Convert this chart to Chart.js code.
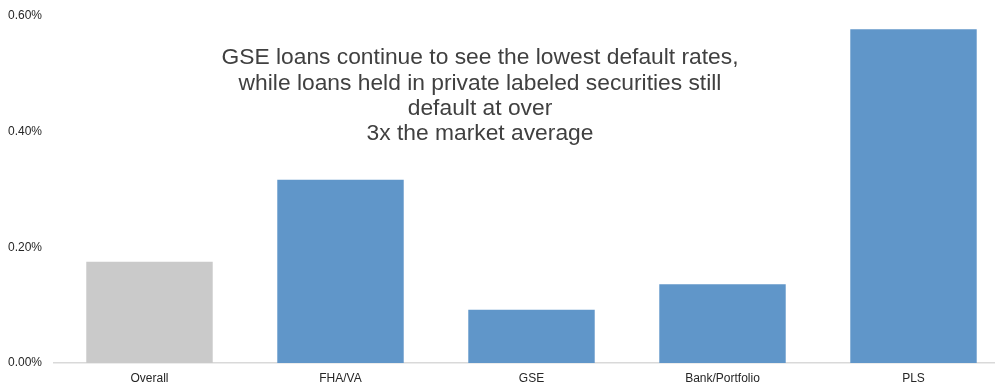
<!DOCTYPE html>
<html>
<head>
<meta charset="utf-8">
<script src="https://cdn.jsdelivr.net/npm/chart.js@4"></script>
<style>
  html, body { margin: 0; padding: 0; background: #fff; overflow: hidden; }
  #wrap { width: 1010px; height: 383px; }
</style>
</head>
<body>
<div id="wrap"><canvas id="chart"></canvas></div>
<script>
// ─── Data ────────────────────────────────────────────────────────────────────
const categories  = ["Overall", "FHA/VA", "GSE", "Bank/Portfolio", "PLS"];
const defaultRate = [0.175, 0.317, 0.092, 0.136, 0.577];   // percent
const yTicks      = [0, 0.2, 0.4, 0.6];
const note = [
    "GSE loans continue to see the lowest default rates,",
    "while loans held in private labeled securities still",
    "default at over",
    "3x the market average"
];

// ─── Styling ─────────────────────────────────────────────────────────────────
const BLUE  = "#6096c9";
const GREY  = "#cacaca";
const FONT  = "'Liberation Sans', Arial, sans-serif";

Chart.defaults.font.family = FONT;
Chart.defaults.color       = "#262626";

// callout text in the upper middle of the plot
const notePlugin = {
    id: "noteText",
    afterDraw(chart) {
        const { ctx: c, chartArea: { left } } = chart;
        c.save();
        c.font = "22.8px " + FONT;
        c.fillStyle = "#404040";
        c.textAlign = "center";
        c.textBaseline = "middle";
        note.forEach((line, i) => c.fillText(line, left + 426, 58 + i * 25.4));
        c.restore();
    }
};

new Chart(document.getElementById("chart"), {
    type: "bar",
    plugins: [notePlugin],
    data: {
        labels: categories,
        datasets: [{
            data: defaultRate,
            backgroundColor: categories.map((_, i) => i === 0 ? GREY : BLUE),
            barPercentage: 0.662,
            categoryPercentage: 1
        }]
    },
    options: {
        responsive: true,
        maintainAspectRatio: false,
        animation: false,
        layout: { padding: { top: 16, right: 1, left: 0, bottom: 0 } },
        plugins: {
            legend: { display: false },
            tooltip: { enabled: false }
        },
        scales: {
            x: {
                grid: { display: true, color: "transparent", drawTicks: false },
                border: { display: true, color: "#d9d9d9", width: 1.5 },
                ticks: { font: { size: 12 }, padding: 8, maxRotation: 0 },
                afterFit: s => { s.height = 20; }
            },
            y: {
                min: 0, max: 0.6,
                afterBuildTicks: s => { s.ticks = yTicks.map(v => ({ value: v })); },
                grid: { display: false, drawTicks: false },
                border: { display: false },
                ticks: {
                    font: { size: 12 },
                    padding: 12,
                    callback: v => v.toFixed(2) + "%"
                },
                // fixed gutter; the top label may hang over the padding
                afterFit: s => { s.width = 54; s.paddingTop = 0; s.paddingBottom = 0; }
            }
        }
    }
});
</script>
</body>
</html>
